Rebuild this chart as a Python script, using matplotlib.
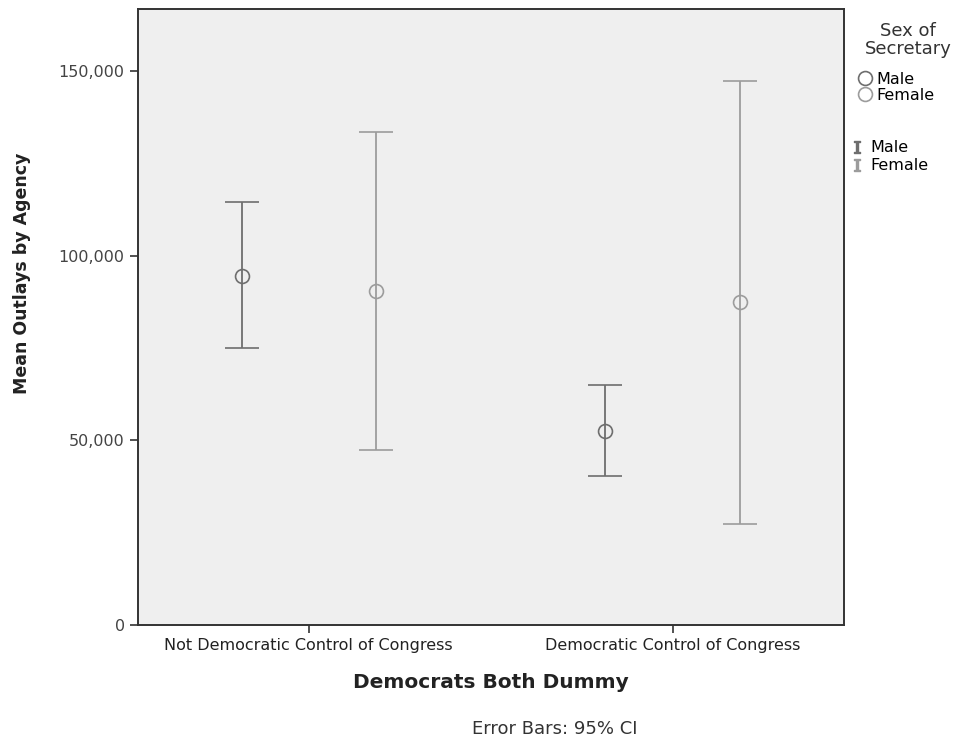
import matplotlib.pyplot as plt
import numpy as np
from matplotlib.lines import Line2D

# Mean outlays by agency, 95% CI, by congress control and sex of secretary
categories = ["Not Democratic Control of Congress", "Democratic Control of Congress"]
groups = ["Male", "Female"]
means = {"Male": [94600, 52400], "Female": [90300, 87300]}
lower = {"Male": [74900, 40300], "Female": [47300, 27300]}
upper = {"Male": [114600, 64900], "Female": [133500, 147300]}

colors = {"Male": "#6e6e6e", "Female": "#9c9c9c"}
offsets = {"Male": -0.185, "Female": 0.185}

plt.rcParams['font.family'] = ['DejaVu Sans']

fig = plt.figure(figsize=(9.64, 7.43), dpi=100)
ax = fig.add_axes([0.143, 0.159, 0.732, 0.829])
ax.set_facecolor("#efefef")

x = np.arange(len(categories))
for g in groups:
    m = np.array(means[g])
    lo = m - np.array(lower[g])
    hi = np.array(upper[g]) - m
    ax.errorbar(x + offsets[g], m, yerr=[lo, hi], fmt='o', mfc='none',
                mec=colors[g], ms=10, mew=1.2, ecolor=colors[g],
                elinewidth=1.3, capsize=12, capthick=1.3)

ax.set_xlim(-0.47, 1.47)
ax.set_ylim(0, 166800)
ax.set_xticks(x)
ax.set_xticklabels(categories, fontsize=11.5, color="#222222")
ax.set_yticks([0, 50000, 100000, 150000])
ax.set_yticklabels(["0", "50,000", "100,000", "150,000"], fontsize=11.5, color="#444444")
ax.tick_params(axis='both', direction='out', length=6, width=1.2, color="#333333")
for s in ax.spines.values():
    s.set_color("#333333")
    s.set_linewidth(1.4)

ax.set_ylabel("Mean Outlays by Agency", fontsize=12.5, fontweight='bold', color="#222222")
ax.yaxis.set_label_coords(-0.152, 0.571)
ax.set_xlabel("Democrats Both Dummy", fontsize=14.5, fontweight='bold', color="#222222", labelpad=14)

fig.text(0.575, 0.019, "Error Bars: 95% CI", ha='center', va='center', fontsize=13, color="#333333")

# legends
fig.text(0.942, 0.946, "Sex of\nSecretary", ha='center', va='center', fontsize=13,
         color="#333333", linespacing=1.05)
circle_handles = [Line2D([], [], marker='o', ls='none', mfc='none', mec=colors[g], ms=10, mew=1.2)
                  for g in groups]
leg1 = fig.legend(circle_handles, groups, loc='upper left',
                  bbox_to_anchor=(0.884, 0.912), frameon=False, fontsize=11.5,
                  handlelength=0.8, handletextpad=0.3,
                  labelspacing=0.05, borderaxespad=0)
bar_handles = [Line2D([], [], marker=r'$\mathtt{I}$', ls='none', color=colors[g], ms=9)
               for g in groups]
leg2 = fig.legend(bar_handles, groups, loc='upper left', bbox_to_anchor=(0.876, 0.82),
                  frameon=False, fontsize=11.5, handlelength=0.8, handletextpad=0.4,
                  labelspacing=0.2, borderaxespad=0)

fig.savefig("out.png", dpi=100)
